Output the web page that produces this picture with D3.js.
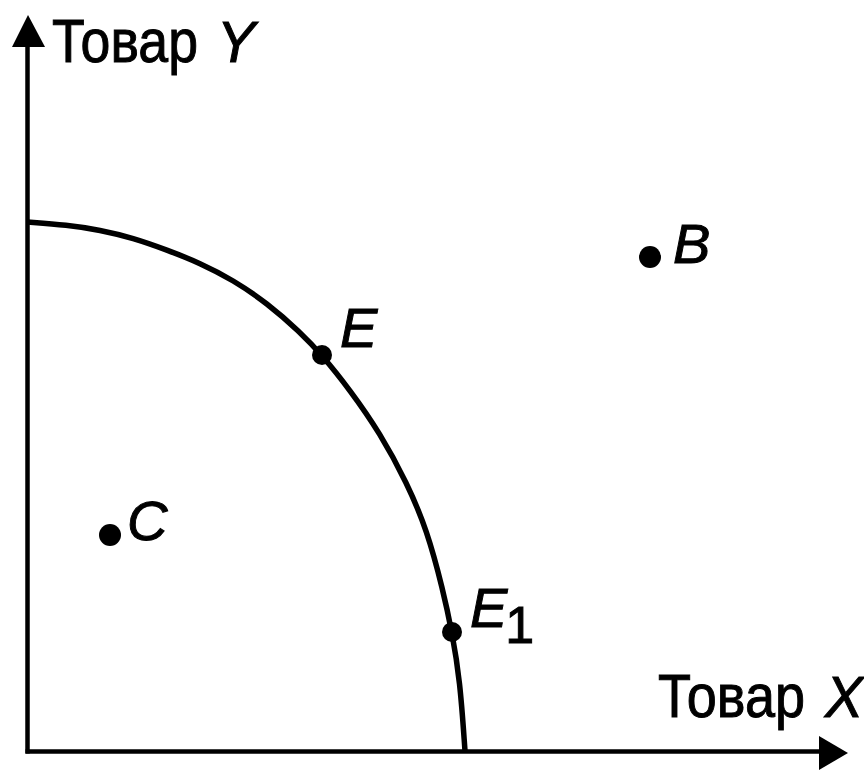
<!DOCTYPE html>
<html lang="ru">
  <head>
    <meta charset="utf-8"/>
    <title>Кривая производственных возможностей</title>
    <script src="https://d3js.org/d3.v7.min.js"></script>
    <style>
      html, body { margin: 0; padding: 0; background: #fff; }
      svg text { font-family: "Liberation Sans", Arial, Helvetica, sans-serif; fill: #000; stroke: #000; stroke-width: 1; }
      .axis .domain { stroke: #000; stroke-width: 4.5; }
      .axis .tick { display: none; }
    </style>
  </head>
  <body>
    <div id="chart"></div>
<script>
  // curve, units from the origin
  const frontierX = [0, 40, 73, 106, 140, 173, 206, 240, 273, 295, 323, 353, 380, 400, 416, 425, 433, 438];
  const frontierY = [529, 526, 521, 513, 501, 488, 471, 448, 419, 396, 361, 318, 268, 221, 161, 119, 71, 0];

  const pointNames = ["E", "E1", "C", "B"];
  const pointX = [295, 425, 83, 623];
  const pointY = [396, 119, 216, 494];

  const axisLabels = ["Товар", "Y", "X"];

  const width = 864;
  const height = 773;

  const x = d3.scaleLinear().domain([0, 821]).range([27, 848]);
  const y = d3.scaleLinear().domain([0, 736]).range([751, 15]);

  const svg = d3.select("#chart").append("svg")
      .attr("width", width)
      .attr("height", height)
      .attr("viewBox", [0, 0, width, height]);

  // axes: just the domain lines, no ticks
  svg.append("g")
      .attr("class", "axis")
      .attr("transform", `translate(0,${y(0)})`)
      .call(d3.axisBottom(x).tickValues([]).tickSizeOuter(0).scale(x.copy().range([x(0) - 2, x(795)])));

  svg.append("g")
      .attr("class", "axis")
      .attr("transform", `translate(${x(0)},0)`)
      .call(d3.axisLeft(y).tickValues([]).tickSizeOuter(0).scale(y.copy().range([y(0) + 2, y(705)])));

  // arrow heads
  const xTip = [x(821), y(-2)];
  svg.append("path")
      .attr("d", `M${xTip[0]},${xTip[1]} L${xTip[0] - 29},${xTip[1] - 17} L${xTip[0] - 29},${xTip[1] + 17} Z`)
      .attr("fill", "#000");

  const yTip = [x(1), y(736)];
  svg.append("path")
      .attr("d", `M${yTip[0]},${yTip[1]} L${yTip[0] - 16},${yTip[1] + 32} L${yTip[0] + 17},${yTip[1] + 32} Z`)
      .attr("fill", "#000");

  // frontier
  const line = d3.line()
      .x(i => x(frontierX[i]))
      .y(i => y(frontierY[i]))
      .curve(d3.curveBasis);

  svg.append("path")
      .datum(d3.range(frontierX.length))
      .attr("d", line)
      .attr("fill", "none")
      .attr("stroke", "#000")
      .attr("stroke-width", 5.5)
      .attr("stroke-linecap", "butt");

  // points
  const radius = { E: 10, E1: 10, C: 11, B: 11 };
  const labelShift = { E: [18, -8], E1: [18, -5], C: [17, 5], B: [23, 6] };

  const pts = svg.append("g");
  pointNames.forEach((name, i) => {
    const cx = x(pointX[i]);
    const cy = y(pointY[i]);
    pts.append("circle")
        .attr("cx", cx)
        .attr("cy", cy)
        .attr("r", radius[name])
        .attr("fill", "#000");

    const t = pts.append("text")
        .attr("x", cx + labelShift[name][0])
        .attr("y", cy + labelShift[name][1])
        .attr("font-size", 56)
        .attr("font-style", "italic");
    t.append("tspan").text(name[0]);
    if (name.length > 1) {
      t.append("tspan")
          .attr("font-style", "normal")
          .attr("font-size", 52)
          .attr("dx", -2)
          .attr("dy", 16)
          .text(name.slice(1));
    }
  });

  // axis titles: condensed word + italic letter
  function axisTitle(left, baseline, wordLength, letter, letterX) {
    svg.append("text")
        .attr("x", left)
        .attr("y", baseline)
        .attr("font-size", 62)
        .attr("textLength", wordLength)
        .attr("lengthAdjust", "spacingAndGlyphs")
        .text(axisLabels[0]);
    svg.append("text")
        .attr("x", letterX)
        .attr("y", baseline)
        .attr("font-size", 57)
        .attr("font-style", "italic")
        .text(letter);
  }

  axisTitle(52, 62, 146, axisLabels[1], 217);
  axisTitle(658, 717, 147, axisLabels[2], 825);
</script>
  </body>
</html>
